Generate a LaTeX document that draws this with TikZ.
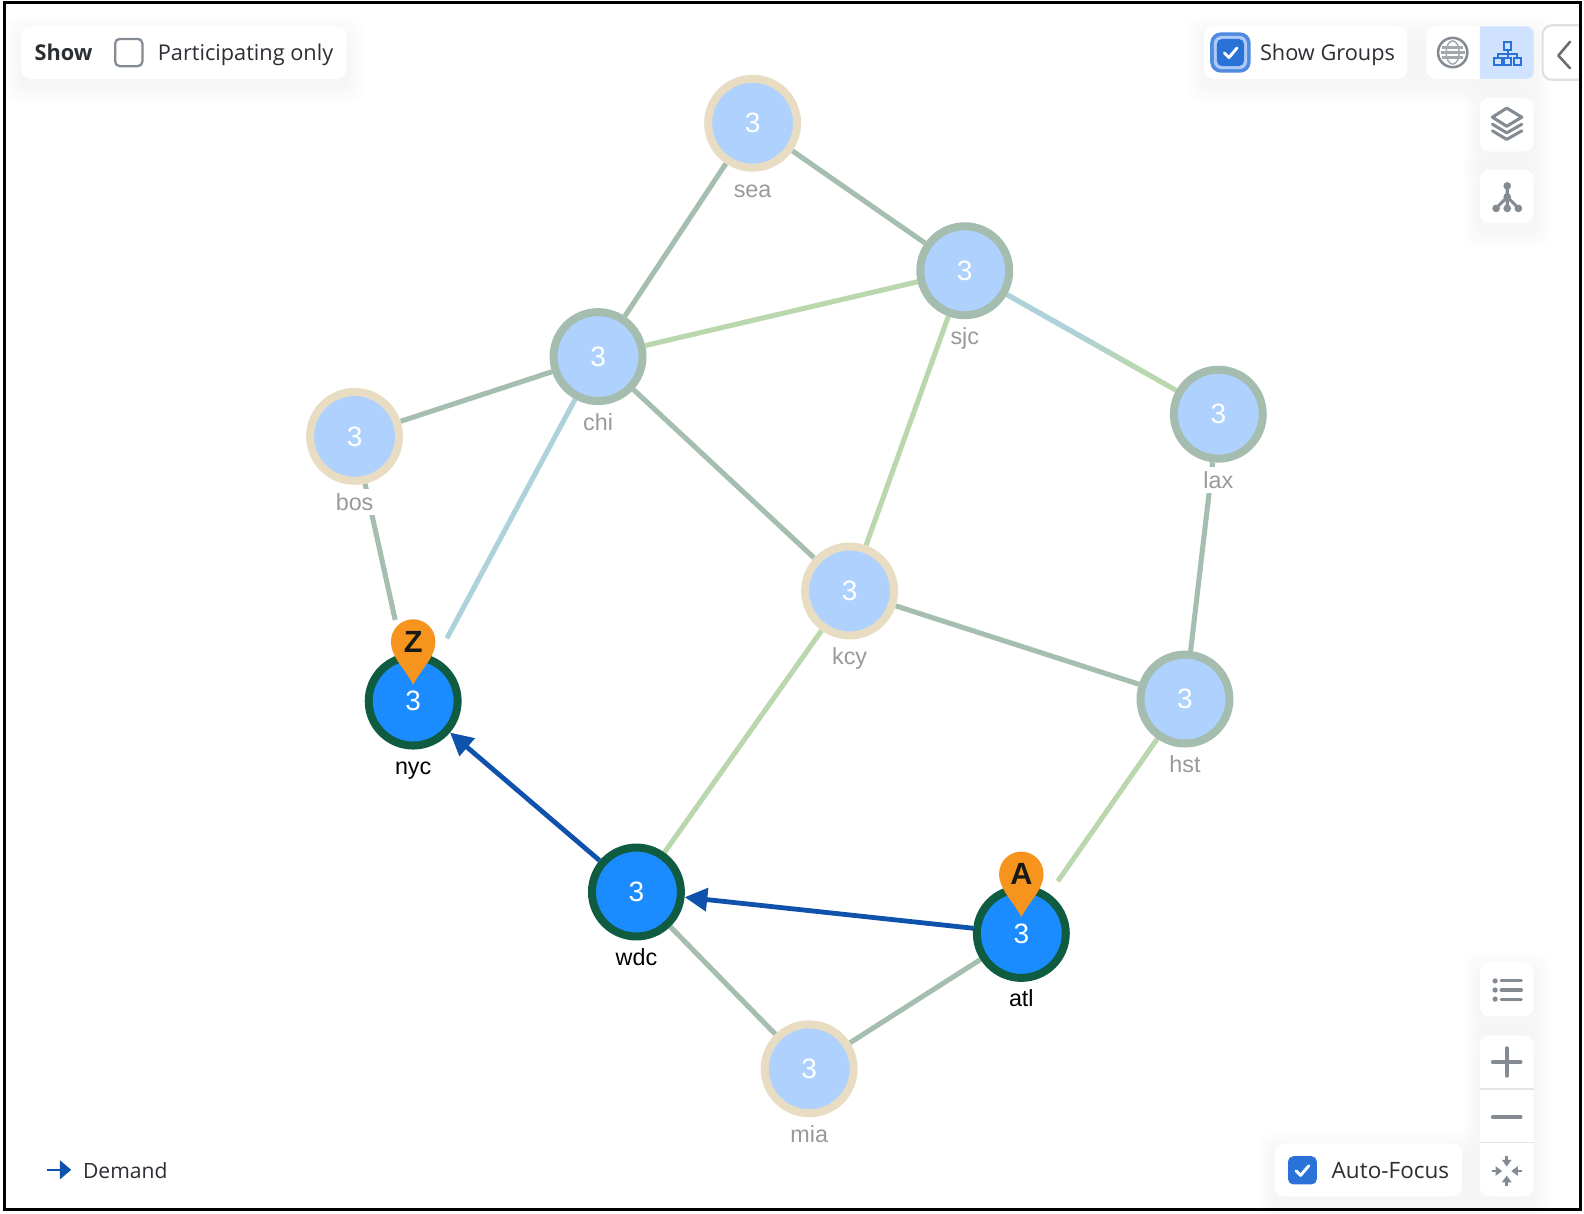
\documentclass[tikz,border=0pt]{standalone}
\usepackage{fontspec}
\setmainfont{Liberation Sans}
\newfontfamily\uifont{Open Sans}
\usetikzlibrary{arrows.meta,backgrounds,calc}
\definecolor{edgegray}{HTML}{A5BEB0}
\definecolor{edgegreen}{HTML}{BAD7AE}
\definecolor{edgeblue}{HTML}{ADD2DB}
\definecolor{ringtan}{HTML}{E8DDC3}
\definecolor{ringgray}{HTML}{A4BDAF}
\definecolor{ringdark}{HTML}{0F5C40}
\definecolor{filllight}{HTML}{AED1FE}
\definecolor{fillstrong}{HTML}{1A8CFF}
\definecolor{pinorange}{HTML}{F7941E}
\definecolor{demandblue}{HTML}{0F52AB}
\definecolor{labelgray}{HTML}{9A9A9A}
\definecolor{uitext}{HTML}{2B2F33}
\definecolor{icongray}{HTML}{848B93}
\definecolor{checkblue}{HTML}{2A71D8}
\definecolor{activeblue}{HTML}{CFE2FF}
\tikzset{
  net/.style={circle,draw,line width=6pt,minimum size=66.7pt,inner sep=0pt,text=white,font=\fontsize{21}{21}\selectfont},
  plainnet/.style={net,draw=ringgray,fill=filllight},
  tannet/.style={net,draw=ringtan,fill=filllight},
  endnet/.style={net,draw=ringdark,fill=fillstrong},
  netlabel/.style={fill=white,inner xsep=1pt,inner ysep=0pt,text height=16.2pt,text depth=3.8pt,text=labelgray,font=\fontsize{17.5}{17.5}\selectfont},
  endlabel/.style={netlabel,text=black},
  link/.style={line width=3.8pt,draw=edgegray},
  greenlink/.style={link,draw=edgegreen},
  bluelink/.style={link,draw=edgeblue},
  demand/.style={line width=3.6pt,draw=demandblue,-{Triangle[length=17pt,width=17pt]}},
  pin/.style={fill=pinorange,draw=none},
  pinletter/.style={inner sep=0pt,font=\fontsize{23}{23}\selectfont\bfseries,text=black!90},
  uilabel/.style={anchor=base west,inner sep=0pt,text=uitext,font=\uifont\fontsize{16.3}{16.3}\selectfont},
  panelbox/.style={fill=white,rounded corners=7pt},
  icon/.style={draw=icongray,line width=2.3pt,line cap=round,line join=round},
  orgicon/.style={draw=checkblue,line width=1.4pt},
  tick/.style={draw=white,line width=2.2pt,line cap=round,line join=round}
}
\newcommand{\softpanel}[4]{%
  \foreach \g in {2,4,...,18}{\fill[black,opacity=.0045,rounded corners=11pt] (#1-\g,#2-\g+7) rectangle (#3+\g,#4+\g+7);}
  \path[panelbox] (#1,#2) rectangle (#3,#4);}
\newcommand{\pinshape}[2]{%
  \path[pin] (#1,#2+43) .. controls (#1-7,#2+28) and (#1-22,#2+16) .. (#1-22,#2)
    arc[start angle=180,end angle=360,radius=22]
    .. controls (#1+22,#2+16) and (#1+7,#2+28) .. (#1,#2+43) -- cycle;}
\newcommand{\tickmark}[2]{\draw[tick] (#1-6,#2+0.5) -- (#1-1.5,#2+5) -- (#1+6.5,#2-4.5);}
\begin{document}
\begin{tikzpicture}[x=0.7577pt,y=-0.7577pt]
\useasboundingbox (0,0) rectangle (1568,1200.8);
% --- network nodes
\node[tannet]   (sea) at (745,122)  {3};
\node[plainnet] (sjc) at (955,268)  {3};
\node[plainnet] (chi) at (592,353)  {3};
\node[tannet]   (bos) at (351,432)  {3};
\node[plainnet] (lax) at (1206,410) {3};
\node[tannet]   (kcy) at (841,585)  {3};
\node[plainnet] (hst) at (1173,692) {3};
\node[endnet]   (nyc) at (409,694)  {3};
\node[endnet]   (wdc) at (630,883)  {3};
\node[endnet]   (atl) at (1011,924) {3};
\node[tannet]   (mia) at (801,1058) {3};
% --- labels
\node[netlabel] (lsea) at (745,187)  {sea};
\node[netlabel] (lsjc) at (955,333)  {sjc};
\node[netlabel] (lchi) at (592,418)  {chi};
\node[netlabel] (lbos) at (351,497)  {bos};
\node[netlabel] (llax) at (1206,475) {lax};
\node[netlabel] (lkcy) at (841,650)  {kcy};
\node[netlabel] (lhst) at (1173,757) {hst};
\node[endlabel] (lnyc) at (409,758)  {nyc};
\node[endlabel] (lwdc) at (630,948)  {wdc};
\node[endlabel] (latl) at (1011,988) {atl};
\node[netlabel] (lmia) at (801,1123) {mia};
% --- pins
\pinshape{409}{635}
\node[pinletter] (pinz) at (409,635) {Z};
\pinshape{1011}{865}
\node[pinletter] (pina) at (1011,865) {A};
% --- page, panels and connectors behind
\begin{scope}[on background layer]
  \fill[white] (0,0) rectangle (1568,1200.8);
  \draw[link] (sea) -- (chi);
  \draw[link] (sea) -- (sjc);
  \draw[greenlink] (chi) -- (sjc);
  \draw[link] (bos) -- (chi);
  \draw[link] (chi) -- (kcy);
  \draw[greenlink] (sjc) -- (kcy);
  \draw[link] (lax) -- (hst);
  \draw[link] (kcy) -- (hst);
  \draw[greenlink] (kcy) -- (wdc);
  \draw[link] (wdc) -- (mia);
  \draw[link] (atl) -- (mia);
  \draw[link,shorten >=26pt] (bos) -- (nyc);
  \draw[bluelink,shorten >=17pt] (chi) -- (nyc);
  \draw[greenlink,shorten >=11.4pt] (hst) -- (atl);
  % blue-to-green link sjc--lax
  \path (sjc) -- (lax) coordinate[pos=0] (sa) coordinate[pos=1] (sb);
  \draw[greenlink] (sa) -- (sb);
  \foreach \t/\m in {0/100,.1/100,.2/100,.3/100,.4/90,.5/65,.6/35,.7/10}{
    \draw[link,draw=edgeblue!\m!edgegreen] ($(sa)!\t!(sb)$) -- ($(sa)!\t+.105!(sb)$);}
  \draw[demand] (wdc) -- (nyc);
  \draw[demand] (atl) -- (wdc);
\end{scope}
% --- UI panels
\softpanel{21}{26}{343}{78}
\softpanel{1192}{26}{1393}{78}
\softpanel{1412}{26}{1518}{78}
\softpanel{1465}{97}{1518}{150}
\softpanel{1465}{168}{1518}{221}
\softpanel{1465}{953}{1518}{1006}
\softpanel{1465}{1025}{1518}{1184.5}
\softpanel{1262}{1132}{1447}{1184.5}
\draw[draw=black!12,line width=1.6pt,fill=white,rounded corners=7pt] (1527,25) rectangle (1575,79);
\draw[draw=black!58,line width=1.9pt,line cap=round,line join=round] (1554.2,41.3) -- (1542.6,55) -- (1554.2,67.6);
\fill[activeblue] (1465,26) -- (1511,26) arc[start angle=-90,end angle=0,radius=7] -- (1518,71) arc[start angle=0,end angle=90,radius=7] -- (1465,78) -- cycle;
% Show panel
\node[uilabel,font=\uifont\bfseries\fontsize{16.3}{16.3}\selectfont] (tshow) at (34,59.4) {Show};
\draw[draw=icongray,line width=1.7pt,rounded corners=3.5pt] (114,38.5) rectangle (141,65.5);
\node[uilabel] (tpart) at (156,59.4) {Participating only};
% Show Groups
\fill[fill=checkblue!82!white,rounded corners=8pt] (1198,32) rectangle (1238,72);
\fill[fill=activeblue!80!checkblue,rounded corners=6pt] (1201.5,35.5) rectangle (1234.5,68.5);
\fill[fill=checkblue,rounded corners=4pt] (1204.5,38.5) rectangle (1231.5,65.5);
\tickmark{1218}{52}
\node[uilabel] (tgroups) at (1247,59.4) {Show Groups};
% Globe
\draw[icon,line width=1.9pt] (1438,52) circle[radius=14.5];
\draw[draw=icongray!75,line width=1.1pt] (1438,52) ellipse[x radius=6.5,y radius=11.5];
\draw[draw=icongray!75,line width=1.7pt] (1427.5,47) -- (1448.5,47) (1426,52) -- (1450,52) (1427.5,57) -- (1448.5,57);
% Org chart
\draw[orgicon] (1489,41.5) rectangle (1496,49.5);
\draw[orgicon] (1492.5,49.5) -- (1492.5,57) (1482.5,57) -- (1482.5,53.5) -- (1502,53.5) -- (1502,57);
\draw[orgicon] (1478.5,57) rectangle (1486.5,64);
\draw[orgicon] (1489,57) rectangle (1496,64);
\draw[orgicon] (1498.5,57) rectangle (1505.5,64);
% Layers
\draw[icon] (1491.5,107) -- (1506.4,116) -- (1491.5,125) -- (1477.3,116) -- cycle;
\draw[icon] (1477.3,123) -- (1491.5,131.5) -- (1506.4,123);
\draw[icon] (1477.3,129.5) -- (1491.5,138) -- (1506.4,129.5);
% Tree
\draw[icon] (1492,184) -- (1492,206) (1492,195) -- (1481,206) (1492,195) -- (1503,206);
\foreach \px/\py in {1492/184,1492/195,1481/206.3,1492/206.3,1503/206.3}{\fill[icongray] (\px,\py) circle[radius=3.8];}
% List
\foreach \ly in {971,980,989}{
  \fill[icongray] (1480,\ly) circle[radius=2.6];
  \draw[icon] (1486,\ly) -- (1506,\ly);}
% Zoom
\draw[draw=black!10,line width=.8pt] (1465,1078) -- (1518,1078) (1465,1130.5) -- (1518,1130.5);
\draw[icon,line width=2.8pt] (1477.7,1051.3) -- (1505.3,1051.3) (1491.5,1037.5) -- (1491.5,1065);
\draw[icon,line width=2.8pt] (1477.7,1105.4) -- (1505.3,1105.4);
\foreach \dx/\dy in {1/0,-1/0,0/1,0/-1}{
  \draw[draw=icongray,line width=1.9pt,-{Triangle[length=5pt,width=7pt]}] (1491.5+15*\dx,1159.2+15*\dy) -- (1491.5+4.5*\dx,1159.2+4.5*\dy);}
% Auto-Focus
\fill[fill=checkblue,rounded corners=4pt] (1275,1144.5) rectangle (1303.5,1172.5);
\tickmark{1289}{1158.5}
\node[uilabel,font=\uifont\fontsize{16.9}{16.9}\selectfont] (tauto) at (1318,1166.6) {Auto-Focus};
% Demand legend
\coordinate (dstart) at (47,1158);
\coordinate (dend) at (70.5,1158);
\draw[draw=demandblue,line width=1.7pt,-{Triangle[length=8.5pt,width=14pt]}] (dstart) -- (dend);
\node[uilabel,font=\uifont\fontsize{15.8}{15.8}\selectfont] (tdemand) at (82,1166.8) {Demand};
% outer frame
\fill[white] (1564,0) rectangle (1568,1200.8);
\draw[black,line width=2.3pt] (4.3,2.5) rectangle (1564.5,1197);
\end{tikzpicture}
\end{document}
